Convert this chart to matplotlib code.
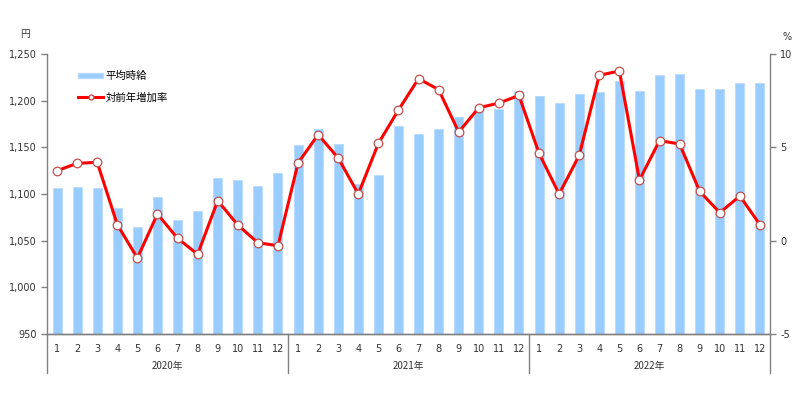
import numpy as np
import matplotlib.pyplot as plt
from matplotlib.lines import Line2D
from matplotlib.patches import Patch

plt.rcParams['font.family'] = ['Noto Sans CJK JP', 'DejaVu Sans']

# ── data ────────────────────────────────────────────────────────────────────
years = ["2020年", "2021年", "2022年"]
months = [str(m) for m in range(1, 13)]

wage = [
    1106, 1107, 1106, 1085, 1065, 1097, 1072, 1082, 1117, 1115, 1109, 1123,   # 2020
    1152, 1170, 1154, 1111, 1120, 1173, 1164, 1170, 1182, 1191, 1191, 1210,   # 2021
    1205, 1198, 1207, 1209, 1221, 1210, 1227, 1229, 1212, 1212, 1219, 1219,   # 2022
]
growth = [
    3.75, 4.14, 4.20, 0.86, -0.93, 1.43, 0.13, -0.73, 2.14, 0.84, -0.11, -0.27,
    4.16, 5.68, 4.43, 2.50, 5.21, 7.00, 8.68, 8.09, 5.82, 7.12, 7.37, 7.78,
    4.68, 2.50, 4.57, 8.86, 9.09, 3.25, 5.36, 5.18, 2.64, 1.50, 2.39, 0.86,
]

BAR_COLOR = "#99CCFF"
LINE_COLOR = "#FF0000"
AXIS_GRAY = "#808080"

fig = plt.figure(figsize=(7.99, 3.98), dpi=100)
ax = fig.add_axes([47 / 799, 1 - 334 / 398, 723 / 799, 280 / 398])
ax2 = ax.twinx()

x = np.arange(len(wage))
ax.bar(x, np.array(wage) - 950, bottom=950, width=0.45, color=BAR_COLOR,
       edgecolor="#B8DCFF", linewidth=0.6, zorder=2)
ax.set_xlim(-0.5, len(wage) - 0.5)
ax.set_ylim(950, 1250)
ax.set_yticks(range(950, 1251, 50))
ax.set_yticklabels([f"{v:,}" for v in range(950, 1251, 50)], family="DejaVu Sans")

ax2.plot(x, growth, color=LINE_COLOR, linewidth=2.2, marker="o", markersize=6.2,
         markerfacecolor="white", markeredgecolor="#C0504D", markeredgewidth=0.9,
         zorder=3)
ax2.set_ylim(-5, 10)
ax2.set_yticks([-5, 0, 5, 10])
ax2.set_yticklabels(["-5", "0", "5", "10"], family="DejaVu Sans")

# month tick labels
ax.set_xticks(x)
ax.set_xticklabels(months * len(years), family="DejaVu Sans")

for a in (ax, ax2):
    a.spines["top"].set_visible(False)
    for s in ("left", "right", "bottom"):
        a.spines[s].set_color(AXIS_GRAY)
        a.spines[s].set_linewidth(1.0)
    a.tick_params(axis="y", colors=AXIS_GRAY, labelcolor="#333333",
                  labelsize=7, length=4, width=1.0)
ax.tick_params(axis="x", length=0, labelsize=7, labelcolor="#333333", pad=7)
ax2.spines["left"].set_visible(False)
ax.spines["right"].set_visible(False)

# year group labels and separators below the axis
trans = ax.get_xaxis_transform()
for i, yr in enumerate(years):
    ax.text(i * 12 + 5.5, -0.115, yr, transform=trans, ha="center", va="center",
            fontsize=7, color="#333333")
for b in (-0.5, 11.5, 23.5, 35.5):
    ax.plot([b, b], [0, -0.14], transform=trans, color=AXIS_GRAY,
            linewidth=1.0, clip_on=False)

# units
fig.text(25 / 799, 1 - 34 / 398, "円", fontsize=7, ha="center", va="center",
         color="#333333")
fig.text(787 / 799, 1 - 37 / 398, "%", fontsize=7, ha="center", va="center",
         color="#333333", family="DejaVu Sans")

handles = [
    Patch(facecolor=BAR_COLOR, edgecolor="#B8DCFF", label="平均時給"),
    Line2D([0], [0], color=LINE_COLOR, linewidth=2.2, marker="o", markersize=3.5,
           markerfacecolor="white", markeredgecolor="#C0504D", label="対前年増加率"),
]
ax2.legend(handles=handles, loc="upper left", bbox_to_anchor=(0.033, 0.965),
           frameon=False, fontsize=7.5, handlelength=2.4, handleheight=0.45,
           labelspacing=1.05, handletextpad=0.25, borderaxespad=0.3)

fig.savefig("out.png", dpi=100)
